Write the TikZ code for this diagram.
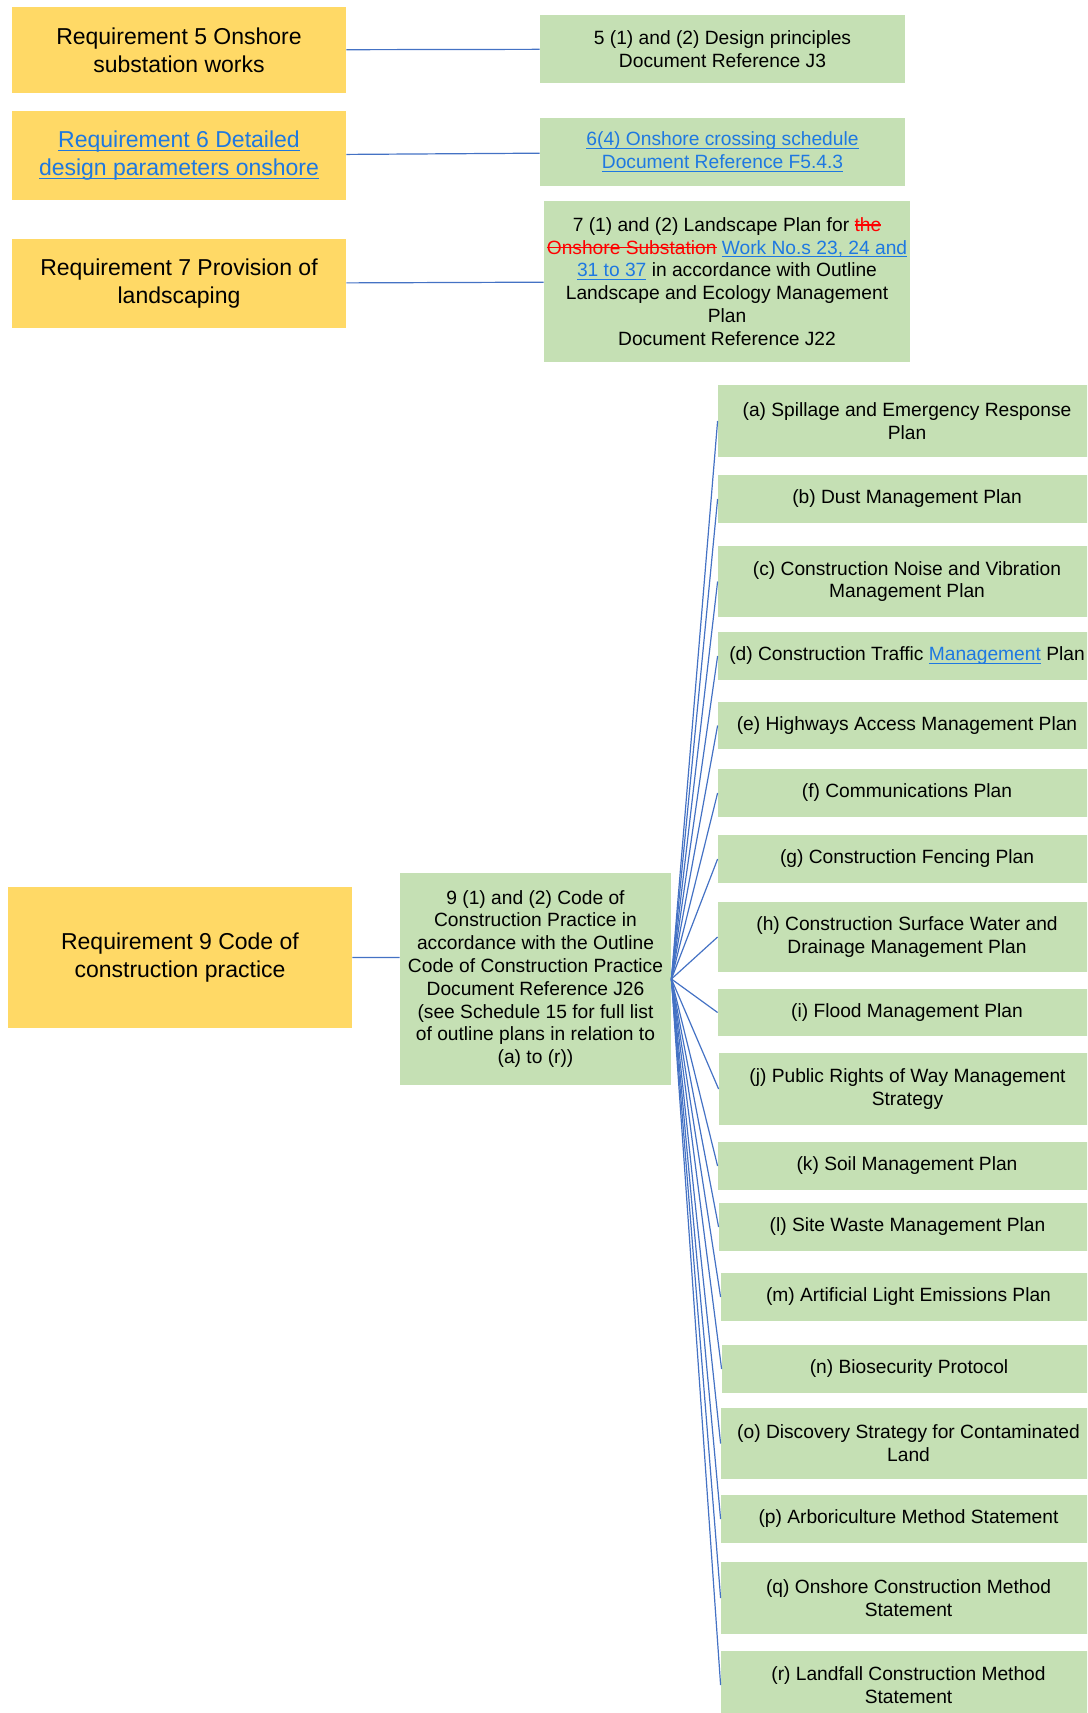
\documentclass[tikz,border=0pt]{standalone}
\usepackage{fontspec}
\setmainfont{Liberation Sans}
\usepackage{tikz}
\definecolor{reqfill}{RGB}{255,217,102}
\definecolor{docfill}{RGB}{197,224,180}
\definecolor{linkblue}{RGB}{30,120,225}
\definecolor{conline}{RGB}{68,114,196}
\newsavebox{\markbox}
\newcommand{\lnk}[1]{{\color{linkblue}\sbox{\markbox}{#1}\rlap{\rule[-0.17em]{\wd\markbox}{0.06em}}\usebox{\markbox}}}
\newcommand{\struck}[1]{{\color{red}\sbox{\markbox}{#1}\rlap{\rule[0.3em]{\wd\markbox}{0.07em}}\usebox{\markbox}}}

\begin{document}
\begin{tikzpicture}[x=0.5pt,y=-0.5pt,
	  req/.style={fill=reqfill,align=center,inner sep=0pt,font=\fontsize{11.5}{14}\selectfont},
	  doc/.style={fill=docfill,align=center,inner sep=0pt,font=\fontsize{9.6}{11.4}\selectfont},
	  con/.style={conline,line width=0.6pt}]
	   \useasboundingbox (0,0) rectangle (1087,1713);
	   \clip (0,0) rectangle (1087,1713);
	   \node (req5) at (179,50)
	     [req,minimum width=167pt,minimum height=43pt] {Requirement 5 Onshore\\substation works};
	   \node (req6) at (179,155.5)
	     [req,minimum width=167pt,minimum height=44.5pt] {\lnk{Requirement 6 Detailed}\\\lnk{design parameters onshore}};
	   \node (req7) at (179,283.5)
	     [req,minimum width=167pt,minimum height=44.5pt] {Requirement 7 Provision of\\landscaping};
	   \node (req9) at (180,957.5)
	     [req,minimum width=172pt,minimum height=70.5pt] {Requirement 9 Code of\\construction practice};
	   \node (des5) at (722.5,49)
	     [doc,minimum width=182.5pt,minimum height=34pt] {5 (1) and (2) Design principles\\Document Reference J3};
	   \node (des6) at (722.5,152)
	     [doc,minimum width=182.5pt,minimum height=34pt] {\lnk{6(4) Onshore crossing schedule}\\\lnk{Document Reference F5.4.3}};
	   \node (des7) at (727,281.5)
	     [doc,minimum width=183pt,minimum height=80.5pt] {7 (1) and (2) Landscape Plan for \struck{the}\\
	     \struck{Onshore Substation} \lnk{Work No.s 23, 24 and}\\
	     \lnk{31 to 37} in accordance with Outline\\Landscape and Ecology Management\\Plan\\Document Reference J22};
	   \node (ccp9) at (535.5,979)
	     [doc,minimum width=135.5pt,minimum height=106pt] {9 (1) and (2) Code of\\Construction Practice in\\accordance with the Outline\\Code of Construction Practice\\Document Reference J26\\(see Schedule 15 for full list\\of outline plans in relation to\\(a) to (r))};
	   \draw [con]
	     (req5) -- (des5)
	     (req6) -- (des6)
	     (req7) -- (des7)
	     (req9.east) -- (req9.east -| ccp9.west);
	   \foreach \n/\ya/\yb/\xl/\lbl in {
	       a/385/457/718/{(a) Spillage and Emergency Response\\Plan},
	       b/475/523/718/{(b) Dust Management Plan},
	       c/546/617/718/{(c) Construction Noise and Vibration\\Management Plan},
	       d/632/680/718/{(d) Construction Traffic \lnk{Management} Plan},
	       e/702/749/718/{(e) Highways Access Management Plan},
	       f/769/817/718/{(f) Communications Plan},
	       g/835/883/718/{(g) Construction Fencing Plan},
	       h/902/972/718/{(h) Construction Surface Water and\\Drainage Management Plan},
	       i/989/1036/718/{(i) Flood Management Plan},
	       j/1053/1125/719/{(j) Public Rights of Way Management\\Strategy},
	       k/1142/1190/718/{(k) Soil Management Plan},
	       l/1203/1251/719/{(l) Site Waste Management Plan},
	       m/1273/1321/721/{(m) Artificial Light Emissions Plan},
	       n/1345/1393/722/{(n) Biosecurity Protocol},
	       o/1408/1479/721/{(o) Discovery Strategy for Contaminated\\Land},
	       p/1495/1543/721/{(p) Arboriculture Method Statement},
	       q/1562/1634/721/{(q) Onshore Construction Method\\Statement},
	       r/1651/1719/721/{(r) Landfall Construction Method\\Statement}} {
	     \node (plan\n) at ({(\xl+1096)/2},{(\ya+\yb)/2})
	      [doc,minimum width={(1096-\xl)*0.5pt},minimum height={(\yb-\ya)*0.5pt}] {\lbl};
	     \draw [con] (ccp9.east) -- (plan\n.west);
	   }
\end{tikzpicture}
\end{document}
